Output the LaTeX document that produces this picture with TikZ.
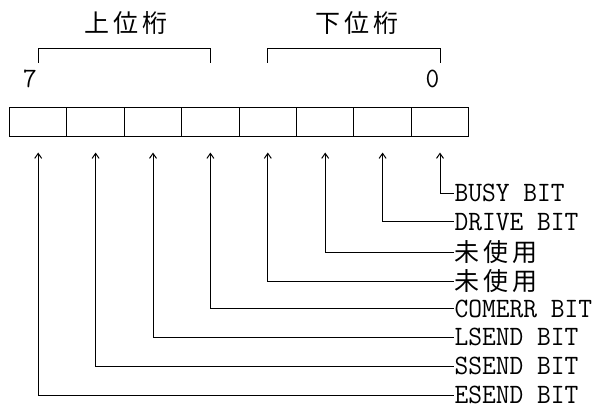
\documentclass[tikz,border=0pt]{standalone}
\usepackage{fontspec}
\usepackage{graphicx}
\newfontfamily\cjkfnt[LetterSpace=15]{Noto Sans CJK JP}
\usetikzlibrary{arrows.meta}
\newcommand{\mtxt}[1]{\scalebox{1}[1.05]{\ttfamily\fontsize{26.7}{30}\selectfont #1}}
\begin{document}
\begin{tikzpicture}[x=1pt,y=-1pt, line width=1pt,
  cell/.style={draw, minimum width=57.4pt, minimum height=28.7pt, inner sep=0pt, outer sep=0pt},
  lab/.style={anchor=west, inner sep=0pt},
  cjk/.style={inner sep=0pt, font={\cjkfnt\fontsize{25}{28}\selectfont}},
  num/.style={inner sep=0pt},
  ptr/.style={{Straight Barb[length=5pt,width=7pt]}-}]
\useasboundingbox (0,0) rectangle (597,407);

% bit cells (bit 7 on the left)
\foreach \i in {0,...,7}
  \node[cell] (c\i) at ({9.5+57.4*(7-\i)+28.7},121.7) {};

% titles
\node[cjk] (hi) at (126,23) {上位桁};
\node[cjk] (lo) at (357,23) {下位桁};

% brackets
\coordinate (bt) at (0,48.3);
\coordinate (bb) at (0,62.7);
\draw (c7 |- bb) -- (c7 |- bt) -- (c4 |- bt) -- (c4 |- bb);
\draw (c3 |- bb) -- (c3 |- bt) -- (c0 |- bt) -- (c0 |- bb);

% bit numbers
\node[num] (n7) at (30,78.5) {\mtxt{7}};
\node[num] (n0) at (432.5,78.5) {\mtxt{0}};

% labels
\node[lab] (l0) at (454,{193+28.86*0}) {\mtxt{BUSY BIT}};
\node[lab] (l1) at (454,{193+28.86*1}) {\mtxt{DRIVE BIT}};
\node[lab,cjk,anchor=west] (l2) at (454,{193+28.86*2+1.5}) {未使用};
\node[lab,cjk,anchor=west] (l3) at (454,{193+28.86*3+1.5}) {未使用};
\node[lab] (l4) at (454,{193+28.86*4}) {\mtxt{COMERR BIT}};
\node[lab] (l5) at (454,{193+28.86*5}) {\mtxt{LSEND BIT}};
\node[lab] (l6) at (454,{193+28.86*6}) {\mtxt{SSEND BIT}};
\node[lab] (l7) at (454,{193+28.86*7}) {\mtxt{ESEND BIT}};

% connectors
\foreach \i in {0,...,7}
  \draw[ptr] ([yshift=-16.5pt]c\i.south) |- (l\i.west);
\end{tikzpicture}
\end{document}
